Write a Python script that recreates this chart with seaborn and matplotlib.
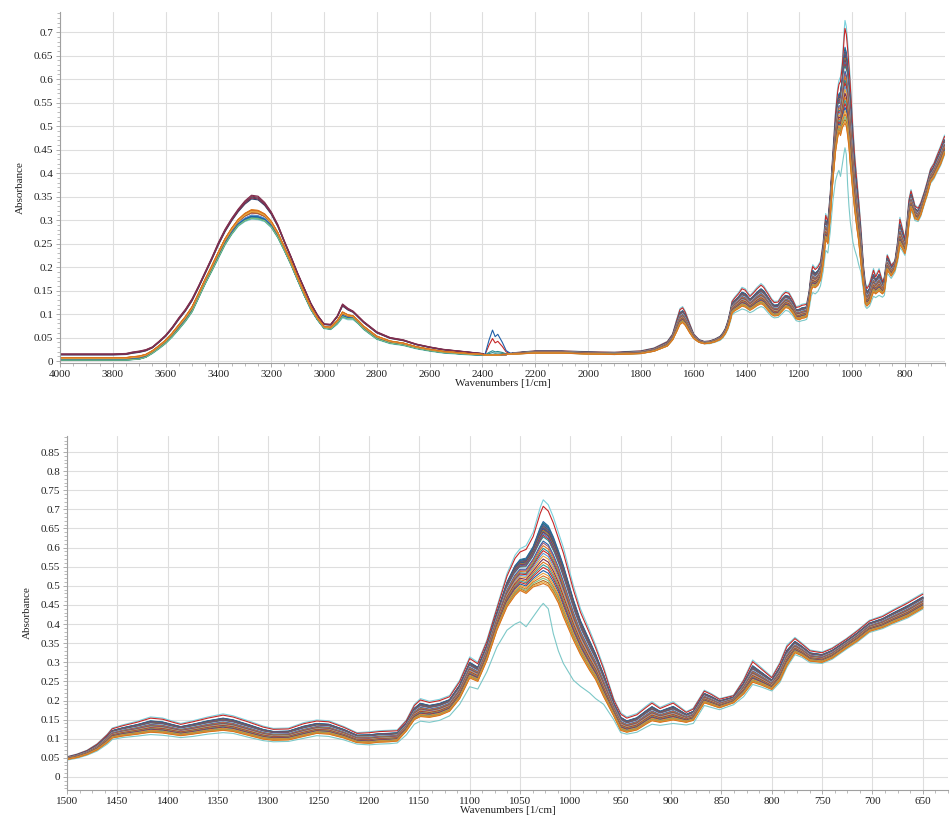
import matplotlib
matplotlib.use("Agg")
import numpy as np
import pandas as pd
import matplotlib.pyplot as plt
from matplotlib.ticker import MultipleLocator, AutoMinorLocator, FuncFormatter
import seaborn as sns

# ---------------------------------------------------------------------------
# FTIR absorbance spectra: shared wavenumber grid (1/cm) with the lower and
# upper edge of the bundle of spectra, plus one low-lying spectrum.
# ---------------------------------------------------------------------------
wavenumber = [
    4000, 3900, 3800, 3750, 3725, 3700, 3675, 3650, 3625, 3600,
    3575, 3550, 3525, 3500, 3475, 3450, 3425, 3400, 3375, 3350,
    3325, 3300, 3275, 3250, 3225, 3200, 3175, 3150, 3125, 3100,
    3075, 3050, 3025, 3000, 2975, 2950, 2930, 2910, 2890, 2870,
    2850, 2800, 2750, 2700, 2650, 2600, 2550, 2500, 2450, 2400,
    2390, 2375, 2362, 2352, 2342, 2325, 2310, 2295,
    2280, 2200, 2100, 2000, 1900, 1800, 1750, 1700, 1680, 1665,
    1652, 1642, 1632, 1615, 1600, 1580, 1560, 1540, 1520,
    1500, 1490, 1480, 1470, 1460, 1455, 1445, 1430, 1417, 1405,
    1395, 1387, 1375, 1360, 1345, 1335, 1320, 1305, 1295, 1280,
    1265, 1252, 1240, 1225, 1212, 1200, 1190, 1180, 1172, 1163,
    1155, 1149, 1140, 1130, 1120, 1110, 1100, 1092, 1083, 1073,
    1063, 1055, 1050, 1044, 1037, 1030, 1027, 1022, 1017, 1012,
    1007, 997, 990, 981, 975, 967, 957, 950, 944, 934,
    925, 919, 911, 898, 885, 878, 867, 860, 852, 838,
    828, 819, 810, 800, 792, 785, 777, 770, 762, 750,
    740, 726, 715, 703, 690, 680, 665, 650,
]

band_low = [
    .002, .002, .002, .002, .003, .004, .008, .017, .027, .038,
    .052, .068, .085, .105, .135, .165, .192, .220, .248, .270,
    .288, .298, .303, .302, .298, .285, .263, .235, .205, .172,
    .140, .110, .088, .070, .068, .080, .094, .090, .090, .080,
    .068, .047, .038, .034, .027, .022, .018, .016, .014, .013,
    .013, .013, .013, .013, .013, .014, .014, .015,
    .015, .017, .017, .015, .014, .016, .021, .032, .045, .062,
    .078, .082, .076, .060, .048, .040, .037, .038, .041,
    .046, .051, .059, .071, .090, .102, .107, .112, .117, .115,
    .111, .108, .112, .118, .122, .119, .109, .099, .096, .097,
    .106, .114, .112, .102, .090, .088, .091, .092, .094, .120,
    .150, .158, .156, .161, .172, .205, .259, .250, .305, .384,
    .445, .475, .488, .480, .497, .503, .506, .500, .480, .455,
    .419, .358, .320, .279, .255, .210, .160, .122, .117, .123,
    .138, .147, .143, .149, .143, .148, .194, .188, .181, .194,
    .217, .248, .240, .229, .252, .292, .325, .317, .303, .300,
    .311, .337, .356, .381, .391, .403, .419, .442,
]

band_high = [
    .015, .015, .015, .016, .019, .021, .024, .030, .042, .055,
    .072, .092, .110, .132, .160, .190, .220, .252, .280, .303,
    .323, .340, .352, .350, .337, .317, .290, .255, .222, .187,
    .155, .123, .098, .079, .078, .096, .121, .112, .106, .095,
    .084, .062, .050, .045, .036, .030, .025, .022, .019, .016,
    .015, .045, .066, .052, .057, .040, .022, .017,
    .018, .022, .022, .020, .019, .022, .028, .042, .058, .088,
    .112, .116, .106, .080, .058, .046, .042, .043, .047,
    .053, .060, .070, .087, .112, .128, .136, .146, .157, .154,
    .146, .140, .147, .157, .165, .160, .147, .133, .127, .128,
    .142, .149, .147, .132, .116, .118, .121, .122, .123, .149,
    .190, .205, .198, .203, .213, .253, .314, .300, .358, .445,
    .532, .580, .597, .605, .640, .705, .725, .712, .680, .640,
    .600, .500, .440, .384, .345, .288, .205, .168, .157, .166,
    .185, .197, .182, .197, .171, .180, .227, .218, .205, .214,
    .255, .306, .285, .262, .300, .345, .365, .350, .332, .327,
    .338, .362, .384, .410, .422, .437, .458, .481,
]

low_spectrum = [
    .002, .002, .002, .002, .003, .004, .008, .016, .026, .037,
    .051, .067, .084, .104, .134, .164, .191, .219, .247, .269,
    .287, .297, .302, .301, .297, .284, .262, .234, .204, .171,
    .139, .109, .087, .069, .067, .078, .092, .088, .088, .079,
    .067, .046, .037, .033, .026, .021, .017, .015, .013, .013,
    .013, .013, .013, .013, .013, .014, .014, .015,
    .015, .017, .017, .015, .014, .016, .021, .032, .045, .064,
    .082, .086, .080, .062, .048, .040, .037, .037, .040,
    .044, .049, .057, .068, .086, .098, .103, .107, .111, .109,
    .106, .103, .106, .112, .116, .114, .104, .095, .092, .093,
    .101, .108, .106, .097, .086, .084, .086, .087, .089, .110,
    .138, .146, .143, .148, .160, .190, .236, .230, .275, .340,
    .384, .400, .406, .393, .419, .445, .454, .440, .375, .330,
    .297, .253, .237, .220, .205, .190, .150, .116, .112, .117,
    .130, .138, .135, .140, .136, .140, .187, .182, .176, .189,
    .210, .242, .235, .225, .247, .287, .320, .313, .299, .297,
    .308, .334, .353, .378, .388, .400, .416, .439,
]

# Height of every spectrum at the main C-O band (1027), the O-H band (3275)
# and the CO2 doublet (2362).
main_peak = [
    0.725, 0.708, 0.668, 0.665, 0.662, 0.660, 0.657, 0.655, 0.652, 0.650,
    0.647, 0.645, 0.642, 0.640, 0.636, 0.632, 0.628, 0.622, 0.617, 0.612,
    0.605, 0.598, 0.592, 0.585, 0.578, 0.570, 0.562, 0.555, 0.548, 0.540,
    0.533, 0.526, 0.520, 0.514, 0.510, 0.506,
]
oh_peak = [
    0.306, 0.312, 0.308, 0.305, 0.345, 0.309, 0.353, 0.307, 0.314, 0.310,
    0.349, 0.320, 0.304, 0.351, 0.311, 0.316, 0.306, 0.313, 0.309, 0.315,
    0.321, 0.305, 0.317, 0.310, 0.322, 0.347, 0.319, 0.307, 0.318, 0.308,
    0.320, 0.321, 0.304, 0.316, 0.318, 0.322,
]
co2_peak = [
    0.013, 0.013, 0.013, 0.013, 0.013, 0.013, 0.013, 0.013, 0.048, 0.066,
    0.013, 0.013, 0.022, 0.013, 0.013, 0.013, 0.013, 0.013, 0.013, 0.013,
    0.013, 0.018, 0.013, 0.013, 0.013, 0.013, 0.013, 0.013, 0.013, 0.013,
    0.013, 0.013, 0.013, 0.013, 0.013, 0.013,
]
sample_colors = [
    "#79d0dc", "#c62828", "#1f5fa8", "#2a8a8f", "#26466d", "#3a7dbf",
    "#7b2d4e", "#2a8a8f", "#c62828", "#1f5fa8", "#4d4d5c", "#d9731f",
    "#2a8a8f", "#8b3050", "#3a7dbf", "#c62828", "#2a8a8f", "#f3f3f3",
    "#1f5fa8", "#9d5a7a", "#d9731f", "#2a8a8f", "#c62828", "#5b9bd5",
    "#e8a33d", "#7b2d4e", "#d9731f", "#3a9a9a", "#c62828", "#1f5fa8",
    "#e8a33d", "#d9731f", "#7fbf7f", "#b5651d", "#e8b04a", "#d9731f",
]
low_spectrum_color = "#7cc8c8"

# ---------------------------------------------------------------------------
# Build the long-form table of spectra
# ---------------------------------------------------------------------------
wn = np.array(wavenumber, dtype=float)
lo = np.array(band_low)
hi = np.array(band_high)
i_main = wavenumber.index(1027)
i_oh = wavenumber.index(3275)
i_co2 = wavenumber.index(2362)


def band_position(height, idx):
    return (height - lo[idx]) / (hi[idx] - lo[idx])


frames = []
for k, (pm, po, pc) in enumerate(zip(main_peak, oh_peak, co2_peak)):
    w = np.where(wn >= 2400, band_position(po, i_oh),
                 np.where(wn > 2290, band_position(pc, i_co2),
                          band_position(pm, i_main)))
    frames.append(pd.DataFrame({"wn": wn, "absorbance": lo + w * (hi - lo),
                                "sample": f"S{k + 1:02d}"}))
frames.insert(0, pd.DataFrame({"wn": wn, "absorbance": low_spectrum,
                               "sample": "S00"}))
spectra = pd.concat(frames, ignore_index=True)
order = ["S00"] + [f"S{k + 1:02d}" for k in range(len(main_peak))]
palette = dict(zip(order, [low_spectrum_color] + sample_colors))

# ---------------------------------------------------------------------------
# Figure
# ---------------------------------------------------------------------------
sns.set_theme(style="whitegrid")
plt.rcParams["font.family"] = ["Liberation Serif", "DejaVu Serif"]
plt.rcParams["axes.unicode_minus"] = False

fig = plt.figure(figsize=(9.5, 8.21), dpi=100)
ax_full = fig.add_axes([0.0632, 0.5579, 0.9316, 0.4275])
ax_zoom = fig.add_axes([0.0705, 0.0378, 0.9274, 0.4312])


def fmt(v, _pos):
    s = f"{v:.2f}".rstrip("0").rstrip(".")
    return "0" if s in ("-0", "") else s


panels = [
    (ax_full, (4000, 648), (-0.004, 0.743), 200),
    (ax_zoom, (1500, 625), (-0.034, 0.892), 50),
]
for ax, xlim, ylim, xstep in panels:
    sns.lineplot(data=spectra, x="wn", y="absorbance", hue="sample",
                 hue_order=order, palette=palette, estimator=None,
                 errorbar=None, sort=False, linewidth=0.8, legend=False,
                 ax=ax)
    ax.set_xlim(*xlim)
    ax.set_ylim(*ylim)
    ax.xaxis.set_major_locator(MultipleLocator(xstep))
    ax.xaxis.set_minor_locator(AutoMinorLocator(4))
    ax.yaxis.set_major_locator(MultipleLocator(0.05))
    ax.yaxis.set_minor_locator(AutoMinorLocator(5))
    ax.yaxis.set_major_formatter(FuncFormatter(fmt))
    ax.grid(True, which="major", color="#dedede", linewidth=0.8)
    ax.grid(False, which="minor")
    ax.set_facecolor("white")
    for side in ("top", "right"):
        ax.spines[side].set_visible(False)
    for side in ("left", "bottom"):
        ax.spines[side].set_color("#a0a0a0")
        ax.spines[side].set_linewidth(0.8)
    ax.tick_params(which="both", bottom=True, left=True, direction="out",
                   colors="#a0a0a0", labelcolor="#222222", labelsize=8,
                   pad=2)
    ax.tick_params(which="major", length=3, width=0.6)
    ax.tick_params(which="minor", length=2, width=0.5)
    ax.set_xlabel("Wavenumbers [1/cm]", fontsize=8, labelpad=0,
                  color="#222222")
    ax.set_ylabel("Absorbance", fontsize=8, labelpad=6, color="#222222")

fig.savefig("out.png", dpi=100, facecolor="white")
